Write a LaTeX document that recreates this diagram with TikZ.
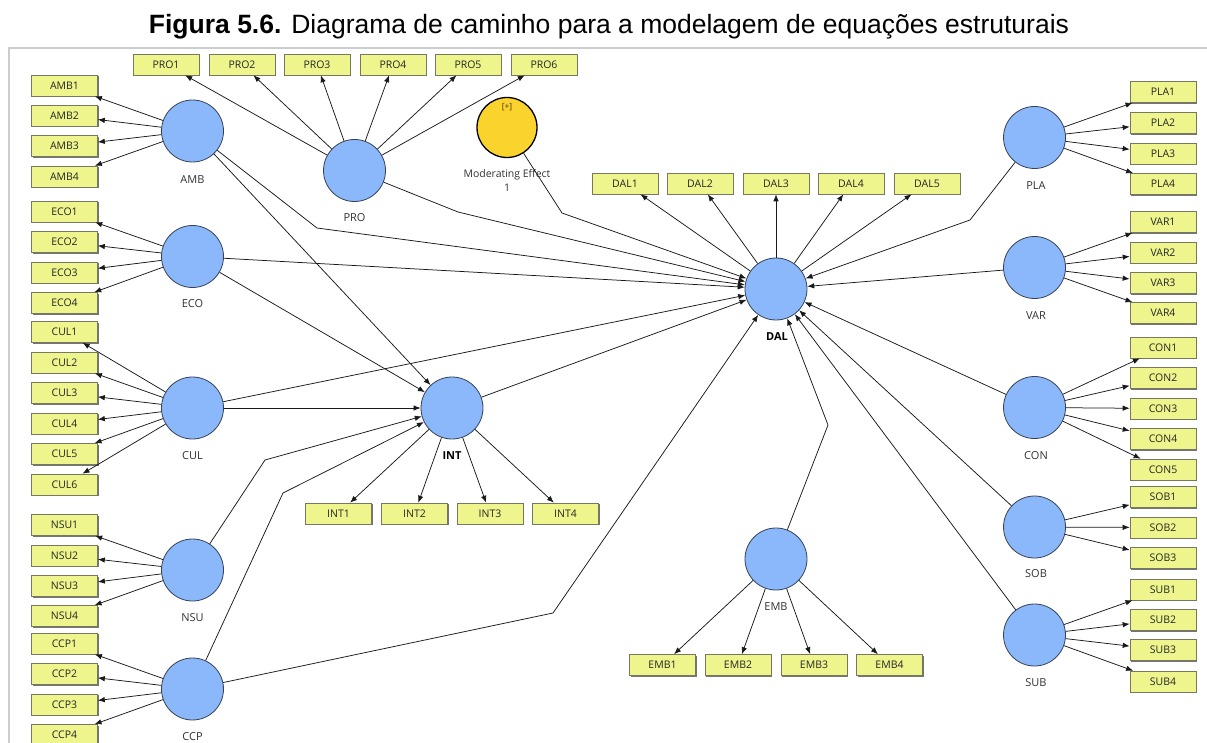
\documentclass[tikz,border=0pt]{standalone}
\usepackage{fontspec}
\newfontfamily\lblfont{Open Sans}
\newfontfamily\titlefont{Liberation Sans}
\usetikzlibrary{arrows.meta,shadows}
\definecolor{lv}{RGB}{138,184,250}
\definecolor{lvborder}{RGB}{55,65,85}
\definecolor{ind}{RGB}{238,245,140}
\definecolor{indborder}{RGB}{120,120,95}
\definecolor{modfill}{RGB}{250,212,45}
\definecolor{framegray}{RGB}{205,205,205}
\definecolor{lbl}{RGB}{50,50,50}
\begin{document}
\begin{tikzpicture}[x=1pt,y=-1pt,
  lat/.style={circle, draw=lvborder, line width=0.8pt, fill=lv, minimum size=62pt, inner sep=0pt},
  indbox/.style={rectangle, draw=indborder, line width=0.6pt, fill=ind, minimum width=66pt, minimum height=21pt, inner sep=0pt, font=\lblfont\fontsize{10.5}{12}\selectfont, text=black!85, drop shadow={shadow xshift=1.4pt, shadow yshift=-1.4pt, fill=black!60, opacity=0.9}},
  latlbl/.style={font=\lblfont\fontsize{11}{13}\selectfont, text=lbl, inner sep=0pt},
  conn/.style={draw=black!90, line width=0.75pt, -{Latex[length=7pt,width=5.5pt]}},
]
\useasboundingbox (0,0) rectangle (1207,743);
\clip (0,0) rectangle (1207,743);

% title and frame
\node[anchor=base, inner sep=0pt, font=\titlefont\fontsize{26.5}{30}\selectfont] (title) at (609,34) {\textbf{Figura 5.6.} Diagrama de caminho para a modelagem de equações estruturais};
\draw[framegray, line width=1.5pt] (9,743) -- (9,48) -- (1207,48);

% latent variables
\node[lat] (AMB) at (192.5,131) {};
\node[lat] (ECO) at (192.5,256.5) {};
\node[lat] (CUL) at (192.5,408) {};
\node[lat] (NSU) at (192.5,570) {};
\node[lat] (CCP) at (192.5,689) {};
\node[lat] (PRO) at (354.5,170.5) {};
\node[lat] (INT) at (452,408) {};
\node[lat] (DAL) at (776,289) {};
\node[lat] (EMB) at (776,559) {};
\node[lat] (PLA) at (1034.5,137.5) {};
\node[lat] (VAR) at (1034.5,267.5) {};
\node[lat] (CON) at (1034.5,407.5) {};
\node[lat] (SOB) at (1034.5,527) {};
\node[lat] (SUB) at (1034.5,635) {};
\node[circle, draw=black, line width=1.3pt, fill=modfill, minimum size=60pt, inner sep=0pt] (MOD) at (507,127.5) {};
\node[font=\lblfont\fontsize{8.5}{9}\selectfont, text=black!60!brown, inner sep=0pt] (MODplus) at (507,107) {[+]};

% latent labels
\node[latlbl] (AMBl) at (192.5,180) {AMB};
\node[latlbl] (ECOl) at (192.5,304) {ECO};
\node[latlbl] (CULl) at (192.5,456) {CUL};
\node[latlbl] (NSUl) at (192.5,618) {NSU};
\node[latlbl] (CCPl) at (192.5,737) {CCP};
\node[latlbl] (PROl) at (354.5,218) {PRO};
\node[latlbl, font=\lblfont\bfseries\fontsize{11}{13}\selectfont, text=black] (INTl) at (452,456) {INT};
\node[latlbl, font=\lblfont\bfseries\fontsize{11}{13}\selectfont, text=black] (DALl) at (777,337) {DAL};
\node[latlbl] (EMBl) at (776,607) {EMB};
\node[latlbl] (PLAl) at (1036,186) {PLA};
\node[latlbl] (VARl) at (1036,316) {VAR};
\node[latlbl] (CONl) at (1036,456) {CON};
\node[latlbl] (SOBl) at (1036,574) {SOB};
\node[latlbl] (SUBl) at (1036,683) {SUB};
\node[latlbl, align=center, font=\lblfont\fontsize{10.5}{14}\selectfont] (MODl) at (507,180) {Moderating Effect\\1};

% indicators, left column
\foreach \n/\y in {1/85.5,2/115.5,3/146,4/176.5}
  {\node[indbox] (AMB\n) at (64.5,\y) {AMB\n}; \draw[conn] (AMB) -- (AMB\n);}
\foreach \n/\y in {1/211.5,2/242,3/272.5,4/303}
  {\node[indbox] (ECO\n) at (64.5,\y) {ECO\n}; \draw[conn] (ECO) -- (ECO\n);}
\foreach \n/\y in {1/332,2/362.5,3/393,4/423.5,5/454,6/484.5}
  {\node[indbox] (CUL\n) at (64.5,\y) {CUL\n}; \draw[conn] (CUL) -- (CUL\n);}
\foreach \n/\y in {1/525,2/555.5,3/586,4/616}
  {\node[indbox] (NSU\n) at (64.5,\y) {NSU\n}; \draw[conn] (NSU) -- (NSU\n);}
\foreach \n/\y in {1/643.5,2/674,3/704.5,4/735}
  {\node[indbox] (CCP\n) at (64.5,\y) {CCP\n}; \draw[conn] (CCP) -- (CCP\n);}

% indicators, top row
\foreach \n/\x in {1/166,2/242,3/317,4/393,5/468,6/544}
  {\node[indbox] (PRO\n) at (\x,64.5) {PRO\n}; \draw[conn] (PRO) -- (PRO\n);}
\foreach \n/\x in {1/625,2/700,3/776,4/851,5/927}
  {\node[indbox] (DAL\n) at (\x,183.5) {DAL\n}; \draw[conn] (DAL) -- (DAL\n);}
\foreach \n/\x in {1/338.5,2/414.5,3/490,4/565.5}
  {\node[indbox] (INT\n) at (\x,513.5) {INT\n}; \draw[conn] (INT) -- (INT\n);}
\foreach \n/\x in {1/662.5,2/738,3/814,4/889.5}
  {\node[indbox] (EMB\n) at (\x,665) {EMB\n}; \draw[conn] (EMB) -- (EMB\n);}

% indicators, right column
\foreach \n/\y in {1/92,2/123,3/153.5,4/184}
  {\node[indbox] (PLA\n) at (1163,\y) {PLA\n}; \draw[conn] (PLA) -- (PLA\n);}
\foreach \n/\y in {1/222,2/252.5,3/283,4/313}
  {\node[indbox] (VAR\n) at (1163,\y) {VAR\n}; \draw[conn] (VAR) -- (VAR\n);}
\foreach \n/\y in {1/347.5,2/378,3/408.5,4/439,5/469.5}
  {\node[indbox] (CON\n) at (1163,\y) {CON\n}; \draw[conn] (CON) -- (CON\n);}
\foreach \n/\y in {1/497,2/527.5,3/558}
  {\node[indbox] (SOB\n) at (1163,\y) {SOB\n}; \draw[conn] (SOB) -- (SOB\n);}
\foreach \n/\y in {1/589.5,2/620,3/650,4/681.5}
  {\node[indbox] (SUB\n) at (1163,\y) {SUB\n}; \draw[conn] (SUB) -- (SUB\n);}

% bend points
\coordinate (bAMB) at (317,228);
\coordinate (bPRO) at (458,212);
\coordinate (bMOD) at (562,213);
\coordinate (bPLA) at (970,220);
\coordinate (bNSU) at (265,460);
\coordinate (bCCPi) at (283,493);
\coordinate (bCCPd) at (553,613);
\coordinate (bEMB) at (828,425);

% structural paths
\draw[conn] (AMB) -- (bAMB) -- (DAL);
\draw[conn] (AMB) -- (INT);
\draw[conn] (PRO) -- (bPRO) -- (DAL);
\draw[conn] (MOD) -- (bMOD) -- (DAL);
\draw[conn] (ECO) -- (DAL);
\draw[conn] (ECO) -- (INT);
\draw[conn] (CUL) -- (DAL);
\draw[conn] (CUL) -- (INT);
\draw[conn] (NSU) -- (bNSU) -- (INT);
\draw[conn] (CCP) -- (bCCPi) -- (INT);
\draw[conn] (CCP) -- (bCCPd) -- (DAL);
\draw[conn] (INT) -- (DAL);
\draw[conn] (EMB) -- (bEMB) -- (DAL);
\draw[conn] (PLA) -- (bPLA) -- (DAL);
\draw[conn] (VAR) -- (DAL);
\draw[conn] (CON) -- (DAL);
\draw[conn] (SOB) -- (DAL);
\draw[conn] (SUB) -- (DAL);
\end{tikzpicture}
\end{document}
